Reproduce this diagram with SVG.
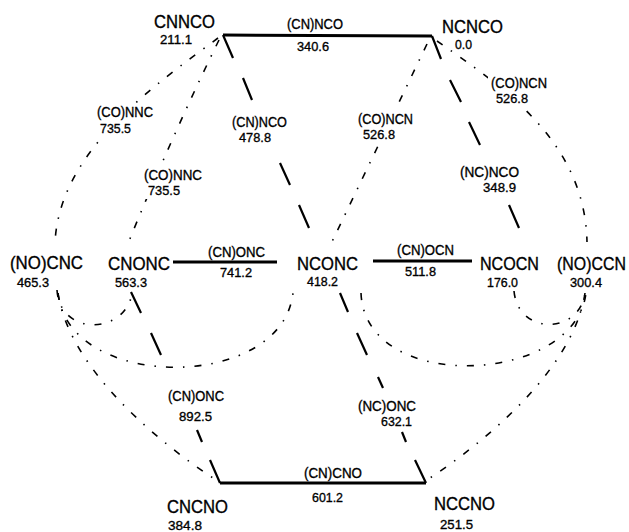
<svg xmlns="http://www.w3.org/2000/svg" width="629" height="532" viewBox="0 0 629 532">
  <style>
    text { font-family: "Liberation Sans", Arial, sans-serif; fill: #000; stroke: #000; stroke-width: 0.35px; }
    .name { font-size: 18.5px; }
    .num { font-size: 13.5px; }
    .lbl { font-size: 14.5px; }
    .solid { stroke: #000; stroke-width: 3; fill: none; }
    .dash { stroke: #000; stroke-width: 2.2; fill: none; stroke-linecap: butt; }
    .dd { stroke: #000; stroke-width: 1.6; fill: none; stroke-dasharray: 7 10 1.5 10; }
  </style>

  <defs>
    <!-- keeps the dash-dot paths clear of the labels that sit on them -->
    <mask id="label-gaps" maskUnits="userSpaceOnUse" x="0" y="0" width="629" height="532">
      <rect x="0" y="0" width="629" height="532" fill="#fff"/>
      <rect x="94" y="103" width="62" height="33" fill="#000"/>
      <rect x="141" y="165" width="64" height="34" fill="#000"/>
      <rect x="488" y="73" width="62" height="34" fill="#000"/>
      <rect x="355" y="110" width="61" height="32" fill="#000"/>
    </mask>
  </defs>

  <!-- connectors: solid = direct, long dash and dash-dot = other paths -->
  <g id="connectors" mask="url(#label-gaps)">
    <!-- solid bonds -->
    <path class="solid" d="M223,35 L432,36"/>
    <path class="solid" d="M220,483 L426,483"/>
    <path class="solid" d="M173,262 L277,262"/>
    <path class="solid" d="M373,261 L472,261"/>

    <!-- long-dash lines -->
    <path class="dash" d="M223,35 L233,58 M243,78 L252,100 M280,163 L290,185 M299,205 L309,228 M340,293 L348,312 M357,333 L367,355 M378,377 L383,388 M402,432 L406,442 M415,460 L426,483"/>
    <path class="dash" d="M131,292 L141,313 M151,333 L161,355 M197,430 L202,442 M210,460 L220,483"/>
    <path class="dash" d="M432,36 L441,59 M450,80 L461,102 M469,122 L480,145 M509,205 L519,228"/>

    <!-- dash-dot paths -->
    <path class="dd" d="M218,38 C155,85 60,150 55,242"/>
    <path class="dd" d="M219,40 Q170,140 127,246"/>
    <path class="dd" d="M437,41 C500,85 585,140 587,242"/>
    <path class="dd" d="M427,44 L329,248"/>
    <path class="dd" d="M57,290 C60,335 120,335 131,298"/>
    <path class="dd" d="M58,293 C68,392 282,392 293,293"/>
    <path class="dd" d="M58,293 C68,360 140,430 216,480"/>
    <path class="dd" d="M514,291 C518,335 578,335 585,294"/>
    <path class="dd" d="M361,293 C365,395 575,385 586,293"/>
    <path class="dd" d="M585,293 C575,360 503,430 427,480"/>
  </g>

  <!-- path labels -->
  <g id="labels">
    <text class="lbl" x="287" y="29" textLength="56" lengthAdjust="spacingAndGlyphs">(CN)NCO</text>
    <text class="num" x="297" y="51" textLength="32" lengthAdjust="spacingAndGlyphs">340.6</text>

    <text class="lbl" x="97" y="117" textLength="56" lengthAdjust="spacingAndGlyphs">(CO)NNC</text>
    <text class="num" x="100" y="132.5" textLength="31" lengthAdjust="spacingAndGlyphs">735.5</text>

    <text class="lbl" x="232" y="127" textLength="55" lengthAdjust="spacingAndGlyphs">(CN)NCO</text>
    <text class="num" x="239" y="142" textLength="32" lengthAdjust="spacingAndGlyphs">478.8</text>

    <text class="lbl" x="144" y="179.5" textLength="58" lengthAdjust="spacingAndGlyphs">(CO)NNC</text>
    <text class="num" x="148" y="195" textLength="32" lengthAdjust="spacingAndGlyphs">735.5</text>

    <text class="lbl" x="491" y="87.5" textLength="56" lengthAdjust="spacingAndGlyphs">(CO)NCN</text>
    <text class="num" x="496" y="103" textLength="32" lengthAdjust="spacingAndGlyphs">526.8</text>

    <text class="lbl" x="358" y="123.5" textLength="55" lengthAdjust="spacingAndGlyphs">(CO)NCN</text>
    <text class="num" x="363" y="138.5" textLength="32" lengthAdjust="spacingAndGlyphs">526.8</text>

    <text class="lbl" x="460" y="176.5" textLength="59" lengthAdjust="spacingAndGlyphs">(NC)NCO</text>
    <text class="num" x="483" y="191.5" textLength="33" lengthAdjust="spacingAndGlyphs">348.9</text>

    <text class="lbl" x="208" y="257" textLength="57" lengthAdjust="spacingAndGlyphs">(CN)ONC</text>
    <text class="num" x="220" y="277" textLength="32" lengthAdjust="spacingAndGlyphs">741.2</text>

    <text class="lbl" x="397" y="255" textLength="57" lengthAdjust="spacingAndGlyphs">(CN)OCN</text>
    <text class="num" x="405" y="276" textLength="31" lengthAdjust="spacingAndGlyphs">511.8</text>

    <text class="lbl" x="168" y="401" textLength="56" lengthAdjust="spacingAndGlyphs">(CN)ONC</text>
    <text class="num" x="179" y="421" textLength="33" lengthAdjust="spacingAndGlyphs">892.5</text>

    <text class="lbl" x="358" y="410.5" textLength="58" lengthAdjust="spacingAndGlyphs">(NC)ONC</text>
    <text class="num" x="381" y="426" textLength="31" lengthAdjust="spacingAndGlyphs">632.1</text>

    <text class="lbl" x="304" y="478" textLength="58" lengthAdjust="spacingAndGlyphs">(CN)CNO</text>
    <text class="num" x="312" y="502" textLength="31" lengthAdjust="spacingAndGlyphs">601.2</text>
  </g>

  <!-- isomers -->
  <g id="CNNCO">
    <text class="name" x="154" y="28" textLength="61" lengthAdjust="spacingAndGlyphs">CNNCO</text>
    <text class="num" x="160" y="43.5" textLength="32" lengthAdjust="spacingAndGlyphs">211.1</text>
  </g>
  <g id="NCNCO">
    <text class="name" x="442" y="32.5" textLength="61" lengthAdjust="spacingAndGlyphs">NCNCO</text>
    <text class="num" x="455" y="48.5" textLength="17" lengthAdjust="spacingAndGlyphs">0.0</text>
  </g>
  <g id="NOCNC">
    <text class="name" x="10" y="269" textLength="73" lengthAdjust="spacingAndGlyphs">(NO)CNC</text>
    <text class="num" x="17" y="287" textLength="32" lengthAdjust="spacingAndGlyphs">465.3</text>
  </g>
  <g id="CNONC">
    <text class="name" x="108" y="270" textLength="62" lengthAdjust="spacingAndGlyphs">CNONC</text>
    <text class="num" x="115" y="287" textLength="32" lengthAdjust="spacingAndGlyphs">563.3</text>
  </g>
  <g id="NCONC">
    <text class="name" x="297" y="270" textLength="61" lengthAdjust="spacingAndGlyphs">NCONC</text>
    <text class="num" x="307" y="285.5" textLength="31" lengthAdjust="spacingAndGlyphs">418.2</text>
  </g>
  <g id="NCOCN">
    <text class="name" x="480" y="270" textLength="59" lengthAdjust="spacingAndGlyphs">NCOCN</text>
    <text class="num" x="487" y="287" textLength="31" lengthAdjust="spacingAndGlyphs">176.0</text>
  </g>
  <g id="NOCCN">
    <!-- horizontally condensed to fit the right margin -->
    <text class="name" transform="translate(557 270) scale(0.86 1)">(NO)CCN</text>
    <text class="num" x="570" y="287" textLength="32" lengthAdjust="spacingAndGlyphs">300.4</text>
  </g>
  <g id="CNCNO">
    <text class="name" x="167" y="513" textLength="61" lengthAdjust="spacingAndGlyphs">CNCNO</text>
    <text class="num" x="168" y="530" textLength="34" lengthAdjust="spacingAndGlyphs">384.8</text>
  </g>
  <g id="NCCNO">
    <text class="name" x="434" y="510" textLength="61" lengthAdjust="spacingAndGlyphs">NCCNO</text>
    <text class="num" x="440" y="529" textLength="33" lengthAdjust="spacingAndGlyphs">251.5</text>
  </g>
</svg>
